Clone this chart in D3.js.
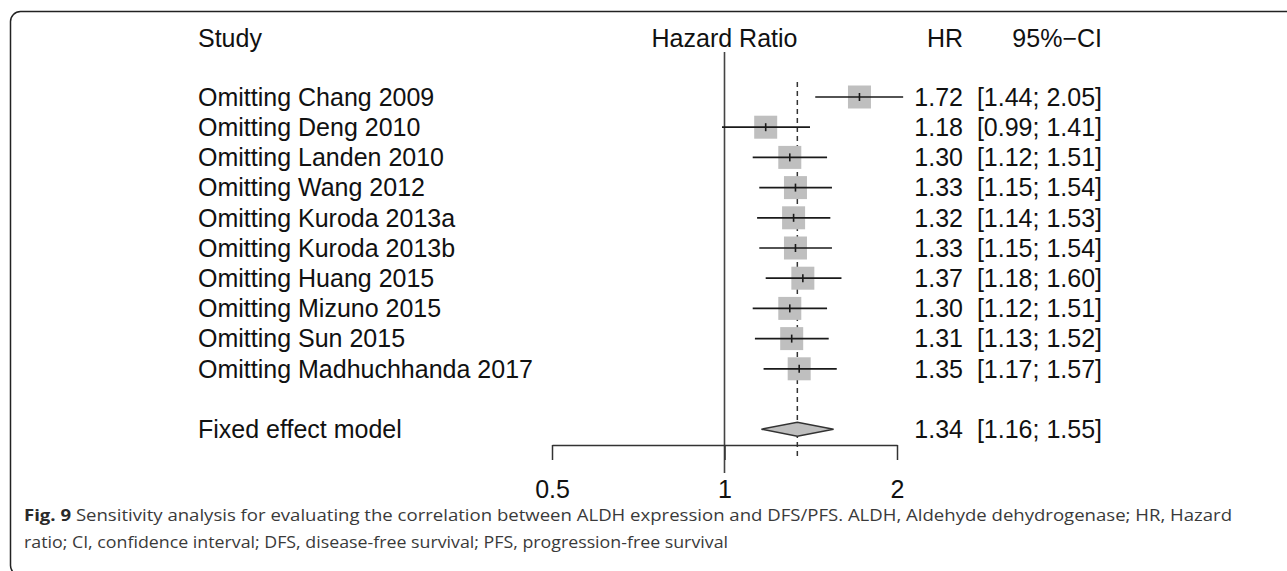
<!DOCTYPE html>
<html>
<head>
<meta charset="utf-8">
<script src="https://cdn.jsdelivr.net/npm/d3@7/dist/d3.min.js"></script>
<style>
  html, body { margin: 0; padding: 0; background: #fff; }
  svg { display: block; }
</style>
</head>
<body>
<svg id="chart" width="1287" height="571"></svg>
<script>
// ---- data ----
const studies = [
  "Omitting Chang 2009",
  "Omitting Deng 2010",
  "Omitting Landen 2010",
  "Omitting Wang 2012",
  "Omitting Kuroda 2013a",
  "Omitting Kuroda 2013b",
  "Omitting Huang 2015",
  "Omitting Mizuno 2015",
  "Omitting Sun 2015",
  "Omitting Madhuchhanda 2017"
];
const hr    = [1.72, 1.18, 1.30, 1.33, 1.32, 1.33, 1.37, 1.30, 1.31, 1.35];
const lower = [1.44, 0.99, 1.12, 1.15, 1.14, 1.15, 1.18, 1.12, 1.13, 1.17];
const upper = [2.05, 1.41, 1.51, 1.54, 1.53, 1.54, 1.60, 1.51, 1.52, 1.57];
const pooledLabel = "Fixed effect model";
const pooled = [1.34, 1.16, 1.55]; // HR, lower, upper
const tickValues = [0.5, 1, 2];
const tickLabels = ["0.5", "1", "2"];
const headers = ["Study", "Hazard Ratio", "HR", "95%\u2212CI"];
const captionBold = "Fig. 9";
const captionLine1 = " Sensitivity analysis for evaluating the correlation between ALDH expression and DFS/PFS. ALDH, Aldehyde dehydrogenase; HR, Hazard";
const captionLine2 = "ratio; CI, confidence interval; DFS, disease-free survival; PFS, progression-free survival";

// ---- layout ----
const svg = d3.select("#chart");
const FONT = "'Liberation Sans', Arial, Helvetica, sans-serif";
const FS = 25;
const ink = "#111";
const lineCol = "#333";
const boxCol = "#bfbfbf";

// frame
svg.append("rect")
  .attr("x", 10.5).attr("y", 11.5)
  .attr("width", 1320).attr("height", 564)
  .attr("rx", 10).attr("ry", 10)
  .attr("fill", "none").attr("stroke", "#222").attr("stroke-width", 1.5);

const x = d3.scaleLog().domain([0.5, 2]).range([552, 897]);
const y = d3.scaleLinear().domain([0, 1]).range([97, 127.2]);
const base = v => y(v) + 8.8;

const fmt2 = d => d.toFixed(2);
const xLabel = 198, xHR = 963, xCI = 1102;

// headers
const hdrY = 47;
svg.append("text").attr("x", xLabel).attr("y", hdrY).text(headers[0]);
svg.append("text").attr("x", (x.range()[0] + x.range()[1]) / 2).attr("y", hdrY).attr("text-anchor", "middle").text(headers[1]);
svg.append("text").attr("x", xHR).attr("y", hdrY).attr("text-anchor", "end").text(headers[2]);
svg.append("text").attr("x", xCI).attr("y", hdrY).attr("text-anchor", "end").text(headers[3]);

// reference lines
svg.append("line")
  .attr("x1", x(1)).attr("x2", x(1)).attr("y1", 52).attr("y2", 473)
  .attr("stroke", "#444").attr("stroke-width", 1.6);
svg.append("line")
  .attr("x1", x(pooled[0])).attr("x2", x(pooled[0])).attr("y1", 82).attr("y2", 460)
  .attr("stroke", "#333").attr("stroke-width", 1.5).attr("stroke-dasharray", "5,4");

// study rows
const rows = studies.map((s, i) => ({ s, hr: hr[i], lo: lower[i], up: upper[i], i }));
const g = svg.append("g");
const sq = 23;
rows.forEach(d => {
  g.append("rect")
    .attr("x", x(d.hr) - sq / 2).attr("y", y(d.i) - sq / 2)
    .attr("width", sq).attr("height", sq).attr("fill", boxCol);
  g.append("line")
    .attr("x1", x(d.lo)).attr("x2", x(d.up)).attr("y1", y(d.i)).attr("y2", y(d.i))
    .attr("stroke", "#1a1a1a").attr("stroke-width", 1.7);
  g.append("line")
    .attr("x1", x(d.hr)).attr("x2", x(d.hr)).attr("y1", y(d.i) - 4).attr("y2", y(d.i) + 4)
    .attr("stroke", "#1a1a1a").attr("stroke-width", 1.6);
  g.append("text").attr("x", xLabel).attr("y", base(d.i)).text(d.s);
  g.append("text").attr("x", xHR).attr("y", base(d.i)).attr("text-anchor", "end").text(fmt2(d.hr));
  g.append("text").attr("x", xCI).attr("y", base(d.i)).attr("text-anchor", "end")
    .text("[" + fmt2(d.lo) + "; " + fmt2(d.up) + "]");
});

// pooled row
const pi = 11;
const py = y(pi);
svg.append("path")
  .attr("d", `M${x(pooled[1])},${py} L${x(pooled[0])},${py - 7} L${x(pooled[2])},${py} L${x(pooled[0])},${py + 7} Z`)
  .attr("fill", boxCol).attr("stroke", "#333").attr("stroke-width", 1.5);
svg.append("text").attr("x", xLabel).attr("y", base(pi)).text(pooledLabel);
svg.append("text").attr("x", xHR).attr("y", base(pi)).attr("text-anchor", "end").text(fmt2(pooled[0]));
svg.append("text").attr("x", xCI).attr("y", base(pi)).attr("text-anchor", "end")
  .text("[" + fmt2(pooled[1]) + "; " + fmt2(pooled[2]) + "]");

// axis
const axis = d3.axisBottom(x)
  .tickValues(tickValues)
  .tickFormat((d, i) => tickLabels[i])
  .tickSize(15).tickSizeOuter(0).tickPadding(20);
const ax = svg.append("g").attr("transform", "translate(0,445)").call(axis);
ax.select(".domain").attr("stroke", lineCol).attr("stroke-width", 1.5);
ax.selectAll(".tick line").attr("stroke", lineCol).attr("stroke-width", 1.5);
ax.selectAll(".tick text").attr("font-family", FONT).attr("font-size", FS).attr("fill", ink);

svg.selectAll("text:not(.tick text)")
  .attr("font-family", FONT).attr("font-size", FS).attr("fill", ink);

// caption
const cap = svg.append("g").attr("font-family", "'Open Sans', 'Noto Sans', sans-serif").attr("font-size", 16).attr("fill", "#3a3a3a");
const t1 = cap.append("text").attr("x", 24).attr("y", 521);
t1.append("tspan").attr("font-weight", "bold").attr("fill", "#2a2a2a").text(captionBold);
t1.append("tspan").text(captionLine1);
t1.attr("textLength", 1208).attr("lengthAdjust", "spacingAndGlyphs");
cap.append("text").attr("x", 24).attr("y", 548).text(captionLine2)
  .attr("textLength", 704).attr("lengthAdjust", "spacingAndGlyphs");
</script>
</body>
</html>
